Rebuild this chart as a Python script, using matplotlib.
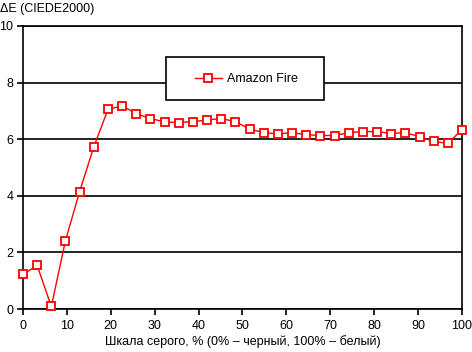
import matplotlib
matplotlib.use("Agg")
import matplotlib.pyplot as plt
from matplotlib.patches import Rectangle

plt.rcParams['font.family'] = ['Liberation Sans', 'DejaVu Sans']

n_points = 32
gray_pct = [i * 100 / 31 for i in range(n_points)]
delta_e = [1.22, 1.54, 0.09, 2.42, 4.15, 5.73, 7.05, 7.18, 6.90, 6.73,
           6.61, 6.59, 6.62, 6.68, 6.73, 6.62, 6.36, 6.23, 6.19, 6.23,
           6.16, 6.13, 6.13, 6.23, 6.27, 6.27, 6.20, 6.23, 6.09, 5.92,
           5.85, 6.34]
series_name = "Amazon Fire"
x_ticks = [0, 10, 20, 30, 40, 50, 60, 70, 80, 90, 100]
y_ticks = [0, 2, 4, 6, 8, 10]

fig = plt.figure(figsize=(4.72, 3.52), dpi=100)
ax = fig.add_axes([23/472, 1 - 309/352, (462-23)/472, (309-26)/352])

ax.plot(gray_pct, delta_e, color='#ff0000', lw=1.0, marker='s', ms=5.2,
        mfc='white', mec='#ff0000', mew=1.3, label=series_name, clip_on=False, zorder=3)

ax.set_xlim(0, 100)
ax.set_ylim(0, 10)
ax.set_xticks(x_ticks)
ax.set_yticks(y_ticks)
ax.yaxis.grid(True, color='black', lw=1.2)
ax.set_axisbelow(True)
for s in ['left', 'bottom', 'right', 'top']:
    ax.spines[s].set_color('black')
    ax.spines[s].set_linewidth(1.2)
ax.tick_params(axis='both', direction='out', length=4, width=1.2, labelsize=9, colors='black')
ax.tick_params(axis='x', pad=4)
ax.tick_params(axis='y', pad=3)

ax.set_xlabel("Шкала серого, % (0% – черный, 100% – белый)", fontsize=9, labelpad=2)
fig.text(0.0, 1 - 9/352, "ΔE (CIEDE2000)", fontsize=9, ha='left', va='center')

# legend box
box = Rectangle(((166-23)/439, (309-100)/283), 158/439, 43/283, transform=ax.transAxes,
                facecolor='white', edgecolor='black', lw=1.2, zorder=4, clip_on=False)
ax.add_patch(box)
leg = ax.legend(loc='center', bbox_to_anchor=((246-23)/439, (309-79)/283),
                fontsize=9, frameon=False, handlelength=2.2, handletextpad=0.35,
                borderpad=0, borderaxespad=0)
leg.set_zorder(5)

fig.savefig("out.png", dpi=100)
